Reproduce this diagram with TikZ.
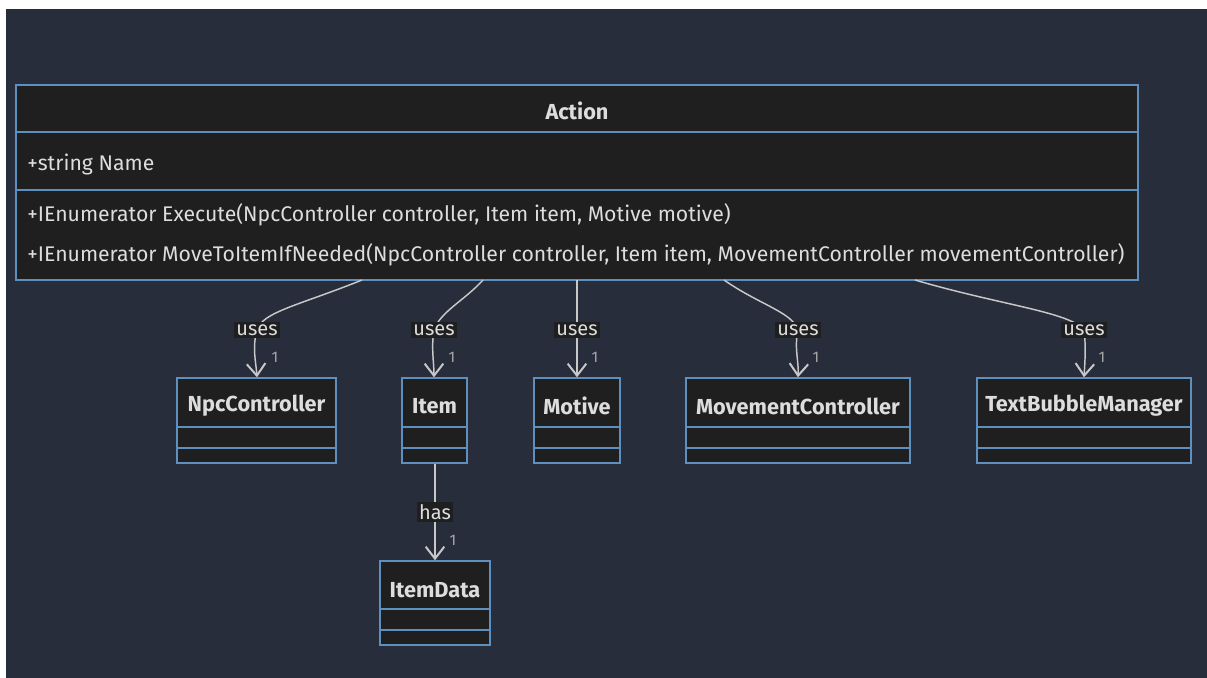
\documentclass[tikz,border=0pt]{standalone}
\usepackage{fontspec}
\setmainfont{Fira Sans}
\usetikzlibrary{arrows.meta,fit}
\definecolor{bgdark}{HTML}{282D3B}
\definecolor{boxfill}{HTML}{1F1F1F}
\definecolor{boxline}{HTML}{5E8FBF}
\definecolor{txt}{HTML}{DDDDDD}
\definecolor{edge}{HTML}{C8C8C8}
\definecolor{mult}{HTML}{A8A8A8}
\tikzset{
  clsbox/.style={draw=boxline, fill=boxfill, line width=1.1pt, inner sep=0pt},
  divline/.style={draw=boxline, line width=1.1pt},
  ctitle/.style={text=txt, font=\fontsize{16.3}{19}\selectfont\bfseries, inner sep=0pt},
  member/.style={text=txt, font=\fontsize{15.9}{19}\selectfont, inner sep=0pt, anchor=west},
  rel/.style={draw=edge, line width=1.1pt, -{Straight Barb[length=9pt,width=14pt,line width=1.5pt]}},
  rellabel/.style={fill=boxfill, text=txt, font=\fontsize{15}{17}\selectfont, inner sep=1.8pt},
  multlabel/.style={text=mult, font=\fontsize{11.5}{13}\selectfont, inner sep=0pt}
}
\begin{document}
\begin{tikzpicture}[x=0.75pt,y=-0.75pt]
\useasboundingbox (0,0) rectangle (1207,678);
\fill[white] (0,0) rectangle (1207,678);
\fill[bgdark] (6,9) rectangle (1207,678);

% Action class
\node[clsbox, fit={(16,85) (1138,280)}] (action) {};
\draw[divline] (16,132) -- (1138,132);
\draw[divline] (16,190) -- (1138,190);
\node[ctitle] (actiont) at (577,111) {Action};
\node[member] (a1) at (27,164) {+string Name};
\node[member] (m1) at (27,215) {+IEnumerator Execute(NpcController controller, Item item, Motive motive)};
\node[member] (m2) at (27,255) {+IEnumerator MoveToItemIfNeeded(NpcController controller, Item item, MovementController movementController)};

% small classes
\node[clsbox, fit={(177,378) (336,463)}] (npc) {};
\draw[divline] (177,427) -- (336,427);
\draw[divline] (177,448) -- (336,448);
\node[ctitle] (npct) at (256.5,406) {NpcController};

\node[clsbox, fit={(402,378) (467,463)}] (item) {};
\draw[divline] (402,427) -- (467,427);
\draw[divline] (402,448) -- (467,448);
\node[ctitle] (itemt) at (434.5,406) {Item};

\node[clsbox, fit={(534,378) (620,463)}] (motive) {};
\draw[divline] (534,427) -- (620,427);
\draw[divline] (534,448) -- (620,448);
\node[ctitle] (motivet) at (577,406) {Motive};

\node[clsbox, fit={(686,378) (910,463)}] (mc) {};
\draw[divline] (686,427) -- (910,427);
\draw[divline] (686,448) -- (910,448);
\node[ctitle] (mct) at (798,406) {MovementController};

\node[clsbox, fit={(977,378) (1191,463)}] (tbm) {};
\draw[divline] (977,427) -- (1191,427);
\draw[divline] (977,448) -- (1191,448);
\node[ctitle] (tbmt) at (1084,406) {TextBubbleManager};

\node[clsbox, fit={(380,561) (490,645)}] (itemdata) {};
\draw[divline] (380,609) -- (490,609);
\draw[divline] (380,630) -- (490,630);
\node[ctitle] (itemdatat) at (435,590) {ItemData};

% start points on Action bottom
\coordinate (s1) at (362,280);
\coordinate (s2) at (483,280);
\coordinate (s3) at (577,280);
\coordinate (s4) at (724,280);
\coordinate (s5) at (915,280);
\coordinate (l1) at (257,330);
\coordinate (l2) at (434,330);
\coordinate (l3) at (577,330);
\coordinate (l4) at (798,330);
\coordinate (l5) at (1084,330);

% relations
\draw[rel] (s1) .. controls (300,305) and (262,312) .. (l1) .. controls (252,348) and (256,362) .. (npc.north -| l1);
\draw[rel] (s2) .. controls (465,300) and (440,312) .. (l2) .. controls (431,348) and (434,362) .. (item.north -| l2);
\draw[rel] (s3) -- (motive.north -| s3);
\draw[rel] (s4) .. controls (760,305) and (792,312) .. (l4) .. controls (794,348) and (799,362) .. (mc.north -| l4);
\draw[rel] (s5) .. controls (1000,305) and (1070,312) .. (l5) .. controls (1086,345) and (1085,362) .. (tbm.north -| l5);
\draw[rel] (item.south -| itemdata.north) -- (itemdata.north);

\node[rellabel] (u1) at (l1) {uses};
\node[rellabel] (u2) at (l2) {uses};
\node[rellabel] (u3) at (l3) {uses};
\node[rellabel] (u4) at (l4) {uses};
\node[rellabel] (u5) at (l5) {uses};
\node[rellabel] (h1) at (435,512) {has};

\node[multlabel] (n1) at (275,357) {1};
\node[multlabel] (n2) at (452,357) {1};
\node[multlabel] (n3) at (595,357) {1};
\node[multlabel] (n4) at (816,357) {1};
\node[multlabel] (n5) at (1102,357) {1};
\node[multlabel] (n6) at (453,540) {1};
\end{tikzpicture}
\end{document}
